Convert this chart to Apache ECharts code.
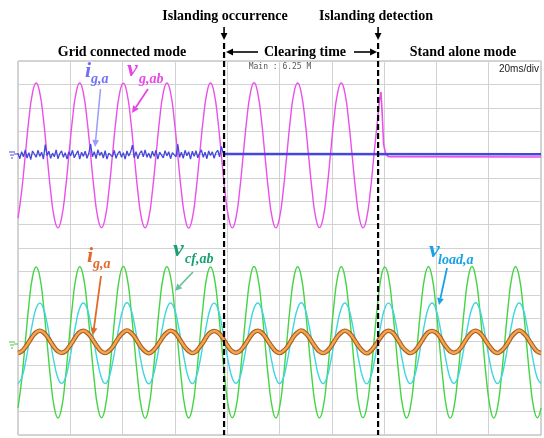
<!DOCTYPE html>
<html>
<head>
<meta charset="utf-8">
<script src="https://cdn.jsdelivr.net/npm/echarts@6/dist/echarts.min.js"></script>
<style>
html, body { margin: 0; padding: 0; background: #fff; }
#scope { width: 544px; height: 438px; }
</style>
</head>
<body>
<div id="scope"></div>
<script>
// 20 ms/div, 10 divisions -> 200 ms; 144 samples = 12 samples per 60 Hz cycle
var sampleMs = 200 / 144;
var noiseSampleMs = 200 / 288;
var islandingMs = 78.8;
var detectionMs = 137.7;

// readings in divisions, relative to each channel's ground marker
// v_g,ab (upper channel), until islanding detection
var vgAb = [
  -2.72, -1.59, -0.04, 1.51, 2.64, 3.06, 2.64, 1.51, -0.04, -1.59, -2.72, -3.14,
  -2.71, -1.60, -0.05, 1.51, 2.65, 3.06, 2.63, 1.50, -0.04, -1.58, -2.72, -3.13,
  -2.72, -1.59, -0.04, 1.52, 2.64, 3.05, 2.64, 1.51, -0.03, -1.59, -2.73, -3.14,
  -2.72, -1.58, -0.04, 1.51, 2.64, 3.06, 2.65, 1.51, -0.04, -1.60, -2.72, -3.15,
  -2.73, -1.59, -0.03, 1.50, 2.63, 3.06, 2.64, 1.52, -0.04, -1.59, -2.71, -3.14,
  -2.72, -1.59, -0.04, 1.51, 2.64, 3.07, 2.64, 1.51, -0.05, -1.59, -2.72, -3.14,
  -2.71, -1.60, -0.04, 1.51, 2.65, 3.06, 2.63, 1.51, -0.04, -1.58, -2.72, -3.13,
  -2.72, -1.59, -0.04, 1.52, 2.64, 3.06, 2.64, 1.50, -0.04, -1.59, -2.73, -3.14,
  -2.72, -1.59, -0.04, 1.51
];
// spike and collapse right after detection: [ms, div]
var vgAbTail = [
  [137.5, 1.51], [138.2, 2.30], [138.8, 2.67], [139.3, 1.70], [139.8, 0.45],
  [140.6, 0.02], [141.6, -0.09], [200, -0.11]
];

// i_g,a seen on the upper channel (grid current before islanding)
var igaGridNoise = [
  0.05, -0.18, 0.12, -0.10, 0.20, -0.15, 0.08, -0.22, 0.15, 0.02, -0.12, 0.18,
  -0.08, 0.10, -0.20, 0.42, -0.05, 0.14, -0.16, 0.06, -0.10, 0.20, -0.18, 0.04,
  0.15, -0.12, 0.08, -0.20, 0.12, -0.06, 0.18, -0.14, 0.02, 0.16, -0.20, 0.10,
  -0.08, 0.14, -0.16, 0.05, 0.45, -0.10, 0.12, -0.18, 0.20, -0.04, 0.10, -0.15,
  0.16, -0.20, 0.06, 0.12, -0.10, 0.18, -0.16, 0.04, 0.14, -0.12, 0.08, -0.20,
  0.15, -0.06, 0.10, 0.40, -0.14, 0.12, -0.18, 0.05, 0.16, -0.10, 0.20, -0.12,
  0.06, -0.16, 0.14, -0.08, 0.18, -0.20, 0.10, 0.02, -0.14, 0.16, -0.06, 0.12,
  -0.18, 0.08, 0.15, -0.10, 0.44, -0.12, 0.10, -0.16, 0.18, -0.05, 0.12, -0.20,
  0.14, -0.08, 0.16, -0.14, 0.06, 0.20, -0.12, 0.10, -0.18, 0.15, -0.04, 0.12,
  -0.16, 0.08, 0.18, -0.10, 0.35, 0.05
];
var igaGridAfter = [[78.8, 0.02], [200, 0.01]];

// lower channel
var vcfAb = [
  -2.84, -1.66, -0.05, 1.57, 2.77, 3.19, 2.78, 1.58, -0.03, -1.64, -2.83, -3.27,
  -2.85, -1.65, -0.04, 1.58, 2.76, 3.20, 2.77, 1.59, -0.04, -1.66, -2.84, -3.26,
  -2.84, -1.64, -0.03, 1.58, 2.78, 3.21, 2.77, 1.57, -0.05, -1.65, -2.85, -3.28,
  -2.83, -1.65, -0.04, 1.59, 2.77, 3.20, 2.76, 1.58, -0.04, -1.65, -2.84, -3.27,
  -2.84, -1.66, -0.04, 1.58, 2.77, 3.19, 2.77, 1.58, -0.03, -1.64, -2.84, -3.26,
  -2.85, -1.65, -0.05, 1.57, 2.78, 3.21, 2.78, 1.59, -0.04, -1.65, -2.83, -3.27,
  -2.84, -1.65, -0.04, 1.58, 2.77, 3.20, 2.77, 1.58, -0.04, -1.66, -2.84, -3.27,
  -2.84, -1.64, -0.04, 1.58, 2.76, 3.20, 2.77, 1.57, -0.04, -1.65, -2.85, -3.26,
  -2.83, -1.65, -0.03, 1.59, 2.77, 3.19, 2.78, 1.58, -0.05, -1.65, -2.84, -3.27,
  -2.84, -1.66, -0.04, 1.58, 2.77, 3.20, 2.77, 1.58, -0.04, -1.64, -2.84, -3.28,
  -2.85, -1.65, -0.04, 1.57, 2.78, 3.21, 2.76, 1.58, -0.03, -1.65, -2.83, -3.27,
  -2.84, -1.65, -0.05, 1.58, 2.77, 3.20, 2.77, 1.59, -0.04, -1.66, -2.84, -3.26,
  -2.84
];
var vLoadA = [
  -1.80, -1.57, -0.94, -0.08, 0.79, 1.42, 1.64, 1.41, 0.79, -0.08, -0.94, -1.57,
  -1.79, -1.58, -0.95, -0.07, 0.80, 1.43, 1.65, 1.42, 0.78, -0.09, -0.93, -1.56,
  -1.80, -1.57, -0.94, -0.08, 0.79, 1.42, 1.66, 1.42, 0.79, -0.08, -0.95, -1.57,
  -1.81, -1.56, -0.94, -0.08, 0.78, 1.41, 1.65, 1.43, 0.80, -0.07, -0.94, -1.58,
  -1.80, -1.57, -0.93, -0.08, 0.79, 1.42, 1.64, 1.42, 0.79, -0.08, -0.94, -1.57,
  -1.79, -1.57, -0.94, -0.09, 0.80, 1.43, 1.65, 1.41, 0.78, -0.08, -0.95, -1.56,
  -1.80, -1.58, -0.95, -0.08, 0.79, 1.42, 1.66, 1.42, 0.79, -0.07, -0.94, -1.57,
  -1.80, -1.57, -0.94, -0.08, 0.78, 1.41, 1.65, 1.43, 0.80, -0.08, -0.93, -1.57,
  -1.81, -1.56, -0.94, -0.07, 0.79, 1.42, 1.64, 1.42, 0.79, -0.09, -0.94, -1.58,
  -1.80, -1.57, -0.95, -0.08, 0.80, 1.43, 1.65, 1.41, 0.78, -0.08, -0.94, -1.57,
  -1.79, -1.58, -0.94, -0.08, 0.79, 1.42, 1.66, 1.42, 0.79, -0.08, -0.95, -1.56,
  -1.80, -1.57, -0.93, -0.07, 0.79, 1.42, 1.65, 1.43, 0.79, -0.08, -0.94, -1.57,
  -1.80
];
var igA = [
  -0.49, -0.42, -0.25, -0.02, 0.22, 0.39, 0.46, 0.39, 0.22, -0.02, -0.25, -0.42,
  -0.48, -0.42, -0.24, -0.02, 0.23, 0.40, 0.46, 0.38, 0.21, -0.03, -0.25, -0.43,
  -0.49, -0.41, -0.25, -0.01, 0.22, 0.39, 0.47, 0.39, 0.22, -0.02, -0.26, -0.42,
  -0.50, -0.42, -0.25, -0.02, 0.21, 0.38, 0.46, 0.40, 0.22, -0.02, -0.25, -0.41,
  -0.49, -0.43, -0.24, -0.03, 0.22, 0.39, 0.45, 0.39, 0.23, -0.01, -0.25, -0.42,
  -0.48, -0.42, -0.25, -0.02, 0.22, 0.40, 0.46, 0.39, 0.22, -0.02, -0.24, -0.42,
  -0.49, -0.41, -0.26, -0.02, 0.23, 0.39, 0.47, 0.38, 0.21, -0.03, -0.25, -0.43,
  -0.49, -0.42, -0.25, -0.01, 0.22, 0.38, 0.46, 0.39, 0.22, -0.02, -0.25, -0.42,
  -0.50, -0.42, -0.24, -0.02, 0.21, 0.39, 0.46, 0.40, 0.22, -0.02, -0.26, -0.41,
  -0.49, -0.43, -0.25, -0.02, 0.22, 0.40, 0.45, 0.39, 0.23, -0.03, -0.25, -0.42,
  -0.48, -0.42, -0.25, -0.01, 0.22, 0.39, 0.46, 0.39, 0.22, -0.02, -0.24, -0.42,
  -0.49, -0.41, -0.25, -0.02, 0.23, 0.39, 0.47, 0.38, 0.22, -0.02, -0.25, -0.43,
  -0.49
];

function toPairs(values, step) {
  var out = [];
  for (var i = 0; i < values.length; i++) out.push([i * step, values[i]]);
  return out;
}

function wave(name, data, axis, color, width, smooth, z) {
  return {
    name: name, type: 'line', data: data, yAxisIndex: axis,
    showSymbol: false, smooth: smooth, z: z, silent: true,
    lineStyle: { color: color, width: width }
  };
}

var chart = echarts.init(document.getElementById('scope'));
var option = {
  animation: false,
  backgroundColor: '#fff',
  grid: { left: 18, top: 61, width: 523, height: 374, show: true, borderColor: '#a8a8a8', borderWidth: 1 },
  xAxis: {
    type: 'value', min: 0, max: 200, interval: 20,
    axisLine: { show: false }, axisTick: { show: false }, axisLabel: { show: false },
    splitLine: { lineStyle: { color: '#d2d2d2', width: 1 } }
  },
  yAxis: [{
    type: 'value', min: -12, max: 4, interval: 1,
    axisLine: { show: false }, axisTick: { show: false }, axisLabel: { show: false },
    splitLine: { lineStyle: { color: '#d2d2d2', width: 1 } }
  }, {
    type: 'value', min: -4, max: 12, interval: 1,
    axisLine: { show: false }, axisTick: { show: false }, axisLabel: { show: false },
    splitLine: { show: false }
  }],
  series: [
    wave('v_g,ab', toPairs(vgAb, sampleMs), 0, '#ea50ea', 1.4, true, 2),
    wave('v_g,ab tail', vgAbTail, 0, '#ea50ea', 1.6, false, 2),
    wave('i_g,a grid', toPairs(igaGridNoise, noiseSampleMs), 0, '#4646dc', 1.3, false, 3),
    wave('i_g,a grid after', igaGridAfter, 0, '#4646dc', 2.5, false, 3),
    wave('v_cf,ab', toPairs(vcfAb, sampleMs), 1, '#44d444', 1.4, true, 2),
    wave('v_load,a', toPairs(vLoadA, sampleMs), 1, '#3ed6e0', 1.4, true, 3),
    wave('i_g,a edge', toPairs(igA, sampleMs), 1, '#a85a24', 4.6, true, 4),
    wave('i_g,a', toPairs(igA, sampleMs), 1, '#f5a54a', 2.4, true, 5)
  ]
};
chart.setOption(option);

// annotations
var serif = '"Liberation Serif", "Times New Roman", serif';
function txt(x, y, s, font, color, align) {
  return { type: 'text', x: x, y: y, silent: true, z: 20,
    style: { text: s, font: font, fill: color, align: align || 'left', verticalAlign: 'middle' } };
}
function arrow(x1, y1, x2, y2, color, width) {
  var a = Math.atan2(y2 - y1, x2 - x1), len = 7, half = 3.4;
  var bx = x2 - len * Math.cos(a), by = y2 - len * Math.sin(a);
  return [
    { type: 'line', silent: true, z: 20, shape: { x1: x1, y1: y1, x2: bx, y2: by },
      style: { stroke: color, lineWidth: width } },
    { type: 'polygon', silent: true, z: 20,
      shape: { points: [[x2, y2], [bx + half * Math.sin(a), by - half * Math.cos(a)], [bx - half * Math.sin(a), by + half * Math.cos(a)]] },
      style: { fill: color } }
  ];
}
function ground(x, y, color) {
  return [
    { type: 'line', silent: true, shape: { x1: x + 5, y1: y, x2: x + 9, y2: y }, style: { stroke: color, lineWidth: 1 } },
    { type: 'line', silent: true, shape: { x1: x, y1: y - 2, x2: x + 6, y2: y - 2 }, style: { stroke: color, lineWidth: 1 } },
    { type: 'line', silent: true, shape: { x1: x + 1, y1: y + 1, x2: x + 5, y2: y + 1 }, style: { stroke: color, lineWidth: 1 } },
    { type: 'line', silent: true, shape: { x1: x + 2, y1: y + 4, x2: x + 4, y2: y + 4 }, style: { stroke: color, lineWidth: 1 } }
  ];
}

var xIsl = chart.convertToPixel({ gridIndex: 0 }, [islandingMs, 0])[0];
var xDet = chart.convertToPixel({ gridIndex: 0 }, [detectionMs, 0])[0];
var bold14 = 'bold 14px ' + serif;

var g = [];
g.push(txt(225, 16, 'Islanding occurrence', bold14, '#000', 'center'));
g.push(txt(376, 16, 'Islanding detection', bold14, '#000', 'center'));
g.push(txt(122, 52, 'Grid connected mode', bold14, '#000', 'center'));
g.push(txt(305, 52, 'Clearing time', bold14, '#000', 'center'));
g.push(txt(463, 52, 'Stand alone mode', bold14, '#000', 'center'));
g = g.concat(arrow(xIsl, 27, xIsl, 40, '#000', 1.6));
g = g.concat(arrow(xDet, 27, xDet, 40, '#000', 1.6));
g = g.concat(arrow(258, 52, xIsl + 2, 52, '#000', 1.6));
g = g.concat(arrow(354, 52, xDet - 1, 52, '#000', 1.6));
[xIsl, xDet].forEach(function (x) {
  g.push({ type: 'line', silent: true, z: 15, shape: { x1: x, y1: 43, x2: x, y2: 435 },
    style: { stroke: '#000', lineWidth: 2.2, lineDash: [6, 3] } });
});

g.push(txt(280, 67, 'Main : 6.25 M', '8px "DejaVu Sans Mono", monospace', '#555', 'center'));
g.push(txt(539, 69, '20ms/div', '10px "Liberation Sans", sans-serif', '#222', 'right'));

// signal labels
var big = 'italic bold 24px ' + serif, mid = 'italic bold 22px ' + serif, sub = 'italic bold 14px ' + serif;
g.push(txt(85, 71, 'i', mid, '#6f6ff8'));
g.push(txt(91, 79, 'g,a', sub, '#6f6ff8'));
g = g.concat(arrow(100.5, 89, 95, 147, '#9a9aff', 1.5));
g.push(txt(127, 70, 'v', big, '#e646e6'));
g.push(txt(139, 79, 'g,ab', sub, '#e646e6'));
g = g.concat(arrow(148, 89, 132, 113, '#e646e6', 1.8));

g.push(txt(87, 256, 'i', mid, '#e2692a'));
g.push(txt(93, 264, 'g,a', sub, '#e2692a'));
g = g.concat(arrow(101, 276, 93, 335, '#e2692a', 1.8));
g.push(txt(173, 250, 'v', big, '#18a070'));
g.push(txt(185, 259, 'cf,ab', sub, '#18a070'));
g = g.concat(arrow(193, 272, 175, 291, '#66c49a', 1.6));
g.push(txt(429, 251, 'v', big, '#17a2e6'));
g.push(txt(438, 260, 'load,a', sub, '#17a2e6'));
g = g.concat(arrow(447, 268, 439, 305, '#17a2e6', 1.8));

g = g.concat(ground(9, 154, '#4646dc'));
g = g.concat(ground(9, 344, '#44c444'));

chart.setOption({ graphic: g });
</script>
</body>
</html>
